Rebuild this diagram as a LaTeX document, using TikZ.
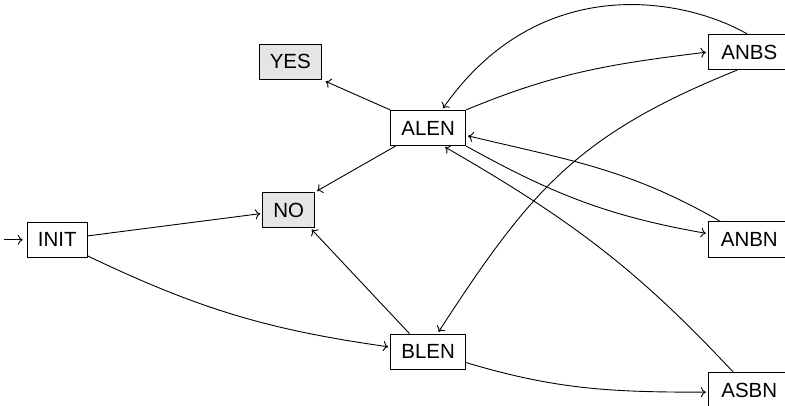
\documentclass[tikz,border=0pt]{standalone}
\usepackage{fontspec}
\setmainfont{Liberation Sans}
\usetikzlibrary{arrows.meta}
\begin{document}
\begin{tikzpicture}[x=1pt,y=1pt,
  state/.style={draw, rectangle, line width=0.9pt, inner xsep=10.75pt, inner ysep=0pt,
    minimum height=35.3pt, font=\fontsize{20.5}{24}\selectfont},
  final/.style={state, fill=gray!20},
  wide/.style={state, minimum width=82pt},
  edge/.style={line width=0.9pt, shorten >=2pt,
    -{Computer Modern Rightarrow[length=5pt,width=10pt]}}]
  \useasboundingbox (0,0) rectangle (785,-406);

  % states
  \node[state] (init) at (57.3,-239.8) {INIT};
  \node[final] (no)   at (288.8,-210)  {NO};
  \node[final] (yes)  at (290.3,-61.7) {YES};
  \node[state] (alen) at (428.2,-128)  {ALEN};
  \node[state] (blen) at (428.2,-351.7) {BLEN};
  \node[wide]  (anbs) at (749.3,-52)   {ANBS};
  \node[wide]  (anbn) at (749.3,-239.5) {ANBN};
  \node[wide]  (asbn) at (749.3,-390)  {ASBN};

  % entry arrow
  \coordinate (start) at (4,-239.8);
  \draw[edge, shorten >=4pt] (start) -- (init);

  % transitions
  \draw[edge] (init) -- (no);
  \draw[edge] (init.-28) to[out=-25.5, in=172] (blen.173);
  \draw[edge] (alen.209) -- (no.north east);
  \draw[edge, shorten >=4pt] (alen.north west) -- (yes.south east);
  \draw[edge] (blen.136) -- (no.-40);
  \draw[edge] (blen.-16) to[out=-16.7, in=180] (asbn.183);
  \draw[edge] (anbs.97) to[out=150, in=55, out looseness=0.57, in looseness=1.4] (alen.53);
  \draw[edge] (alen.north east) to[out=22.6, in=187] (anbs.west);
  \draw[edge] (anbs.236) to[out=202, in=57, looseness=1.1] (blen.63);
  \draw[edge] (alen.south east) to[out=-29, in=170] (anbn.172);
  \draw[edge] (anbn.148) to[out=150, in=-13.5] (alen.-11);
  \draw[edge] (asbn.132) to[out=133, in=-30] (alen.-50);
\end{tikzpicture}
\end{document}
